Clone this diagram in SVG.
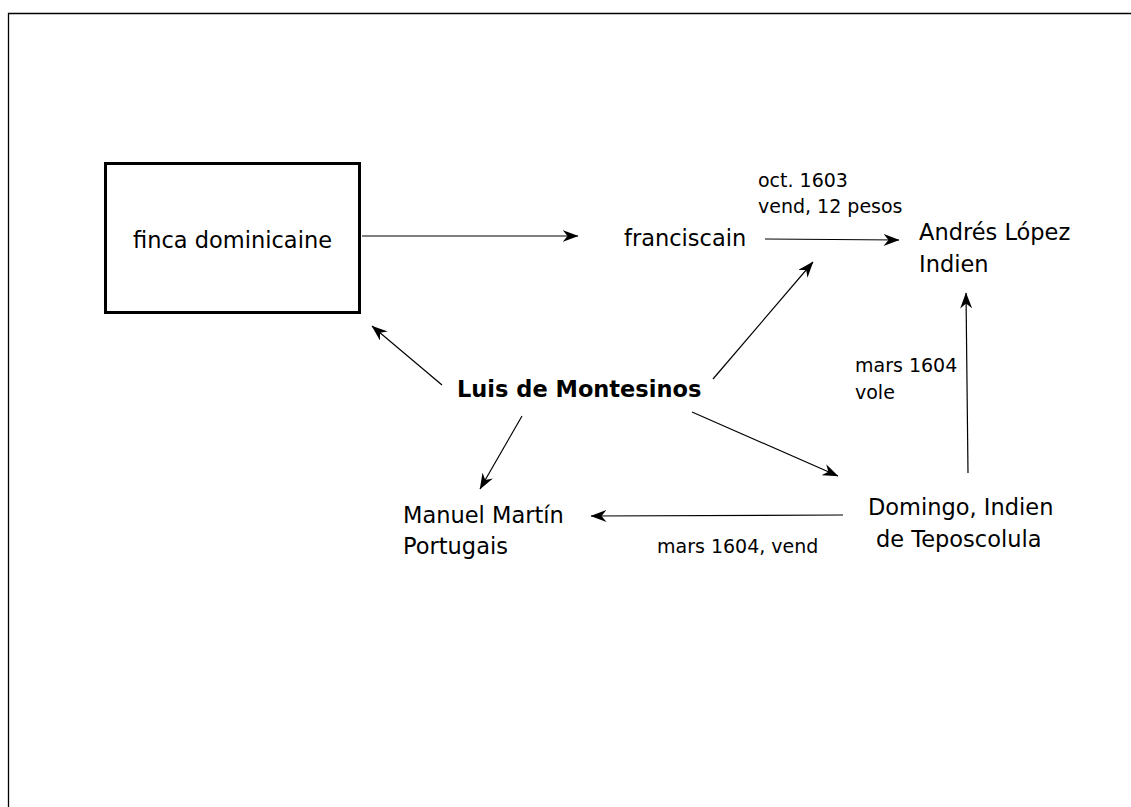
<svg xmlns="http://www.w3.org/2000/svg" width="1131" height="807" viewBox="0 0 1131 807">
<defs>
<style>
.node{font-family:"DejaVu Sans","Verdana",sans-serif;font-size:22.5px;fill:#000}
.bold{font-weight:bold}
.lbl{font-family:"DejaVu Sans","Verdana",sans-serif;font-size:19px;fill:#000}
.edge{stroke:#000;stroke-width:1.2;fill:none;marker-end:url(#ah)}
</style>
<marker id="ah" markerUnits="userSpaceOnUse" markerWidth="16" markerHeight="12" viewBox="0 0 16 12" refX="15.5" refY="6" orient="auto">
<path d="M16,6 L0,0 L5,6 L0,12 Z" fill="#000"/>
</marker>
</defs>
<rect width="1131" height="807" fill="#fff"/>
<path d="M8.5,807 V13.5 H1131" fill="none" stroke="#000" stroke-width="1.3"/>
<g id="finca">
<rect x="105.5" y="163.5" width="254" height="149" fill="#fff" stroke="#000" stroke-width="3"/>
<text class="node" x="232.5" y="248" text-anchor="middle">finca dominicaine</text>
</g>
<g id="franciscain">
<text class="node" x="624" y="246">franciscain</text>
</g>
<g id="andres">
<text class="node" x="919" y="240">Andrés López</text>
<text class="node" x="919" y="272">Indien</text>
</g>
<g id="luis">
<text class="node bold" x="457" y="397">Luis de Montesinos</text>
</g>
<g id="manuel">
<text class="node" x="403" y="523">Manuel Martín</text>
<text class="node" x="403" y="554">Portugais</text>
</g>
<g id="domingo">
<text class="node" x="868" y="515">Domingo, Indien</text>
<text class="node" x="876" y="547">de Teposcolula</text>
</g>
<g id="connectors">
<line class="edge" x1="362" y1="236" x2="578" y2="236"/>
<line class="edge" x1="765" y1="239" x2="899" y2="240"/>
<line class="edge" x1="713" y1="379" x2="813" y2="262"/>
<line class="edge" x1="442" y1="385" x2="372" y2="326"/>
<line class="edge" x1="522" y1="416" x2="480" y2="489"/>
<line class="edge" x1="692" y1="412" x2="838" y2="476"/>
<line class="edge" x1="843" y1="515" x2="591" y2="516"/>
<line class="edge" x1="968" y1="473" x2="966" y2="293"/>
</g>
<g id="labels">
<text class="lbl" x="758" y="187">oct. 1603</text>
<text class="lbl" x="758" y="213">vend, 12 pesos</text>
<text class="lbl" x="855" y="372">mars 1604</text>
<text class="lbl" x="855" y="399">vole</text>
<text class="lbl" x="657" y="553">mars 1604, vend</text>
</g>
</svg>
